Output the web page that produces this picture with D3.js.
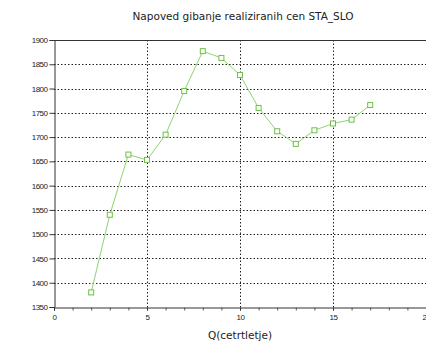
<!DOCTYPE html>
<html>
<head>
<meta charset="utf-8">
<script src="https://cdn.jsdelivr.net/npm/d3@7/dist/d3.min.js"></script>
<style>
  html, body { margin: 0; padding: 0; background: #fff; }
  svg { display: block; font-family: "DejaVu Sans", sans-serif; }
</style>
</head>
<body>
<svg id="chart" width="426" height="343"></svg>
<script>
// Quarterly forecast of realised prices
const quarters = [2, 3, 4, 5, 6, 7, 8, 9, 10, 11, 12, 13, 14, 15, 16, 17];
const prices = [1380, 1540, 1664, 1653, 1705, 1795, 1877, 1863, 1828, 1760, 1712, 1686, 1714, 1728, 1736, 1766];
const xTicks = [0, 5, 10, 15, 20];
const xMinorTicks = d3.range(0, 21, 1);
const yTicks = [1350, 1400, 1450, 1500, 1550, 1600, 1650, 1700, 1750, 1800, 1850, 1900];

const svg = d3.select("#chart");
const plotL = 54, plotT = 40, plotR = 426, plotB = 307;

const x = d3.scaleLinear().domain([0, 20]).range([plotL, plotR]);
const y = d3.scaleLinear().domain([1350, 1900]).range([plotB, plotT]);

// Title
svg.append("text")
  .attr("x", 243).attr("y", 20)
  .attr("text-anchor", "middle")
  .attr("font-size", 10.5)
  .attr("fill", "#222")
  .text("Napoved gibanje realiziranih cen STA_SLO");

// Dotted grid
const grid = svg.append("g")
  .attr("stroke", "#222")
  .attr("stroke-width", 1)
  .attr("stroke-dasharray", "1.5,2");
grid.selectAll("line.h")
  .data(yTicks.filter(v => v > 1350 && v < 1900))
  .join("line")
  .attr("x1", plotL).attr("x2", plotR)
  .attr("y1", d => Math.round(y(d)) + 0.5).attr("y2", d => Math.round(y(d)) + 0.5);
grid.selectAll("line.v")
  .data(xTicks.filter(v => v > 0 && v < 20))
  .join("line")
  .attr("y1", plotT).attr("y2", plotB)
  .attr("x1", d => Math.round(x(d)) + 0.5).attr("x2", d => Math.round(x(d)) + 0.5);

// Top frame line
svg.append("line")
  .attr("x1", plotL).attr("x2", plotR)
  .attr("y1", plotT + 0.5).attr("y2", plotT + 0.5)
  .attr("stroke", "#333");

// Y axis
const yAxis = svg.append("g")
  .attr("transform", `translate(${plotL + 0.5},0)`)
  .call(d3.axisLeft(y).tickValues(yTicks).tickSize(5).tickPadding(2).tickFormat(d3.format("d")));
yAxis.select(".domain").attr("stroke", "#333");
yAxis.selectAll(".tick line").attr("stroke", "#333");
yAxis.selectAll("text").attr("font-size", 8).attr("fill", "#222").attr("letter-spacing", "-0.5");

// X axis: minor ticks every quarter, labels every 5
const xMinor = svg.append("g")
  .attr("transform", `translate(0,${plotB + 0.5})`)
  .call(d3.axisBottom(x).tickValues(xMinorTicks).tickSize(3).tickFormat(""));
xMinor.select(".domain").attr("stroke", "#333");
xMinor.selectAll(".tick line").attr("stroke", "#555");

const xAxis = svg.append("g")
  .attr("transform", `translate(0,${plotB + 0.5})`)
  .call(d3.axisBottom(x).tickValues(xTicks).tickSize(3).tickPadding(4).tickFormat(d3.format("d")));
xAxis.select(".domain").remove();
xAxis.selectAll(".tick line").attr("stroke", "#333");
xAxis.selectAll("text").attr("font-size", 8).attr("fill", "#222").attr("letter-spacing", "-0.5");

// X axis title
svg.append("text")
  .attr("x", 240).attr("y", 339)
  .attr("text-anchor", "middle")
  .attr("font-size", 10.5)
  .attr("fill", "#222")
  .text("Q(cetrtletje)");

// Series line
const pts = quarters.map((q, i) => [q, prices[i]]);
svg.append("path")
  .datum(pts)
  .attr("fill", "none")
  .attr("stroke", "#8fd46f")
  .attr("stroke-width", 1)
  .attr("d", d3.line().x(d => x(d[0])).y(d => y(d[1])));

// Square markers
svg.selectAll("rect.pt")
  .data(pts)
  .join("rect")
  .attr("class", "pt")
  .attr("x", d => x(d[0]) - 2.5).attr("y", d => y(d[1]) - 2.5)
  .attr("width", 5).attr("height", 5)
  .attr("fill", "#fff")
  .attr("stroke", "#6cc048")
  .attr("stroke-width", 1);
</script>
</body>
</html>
